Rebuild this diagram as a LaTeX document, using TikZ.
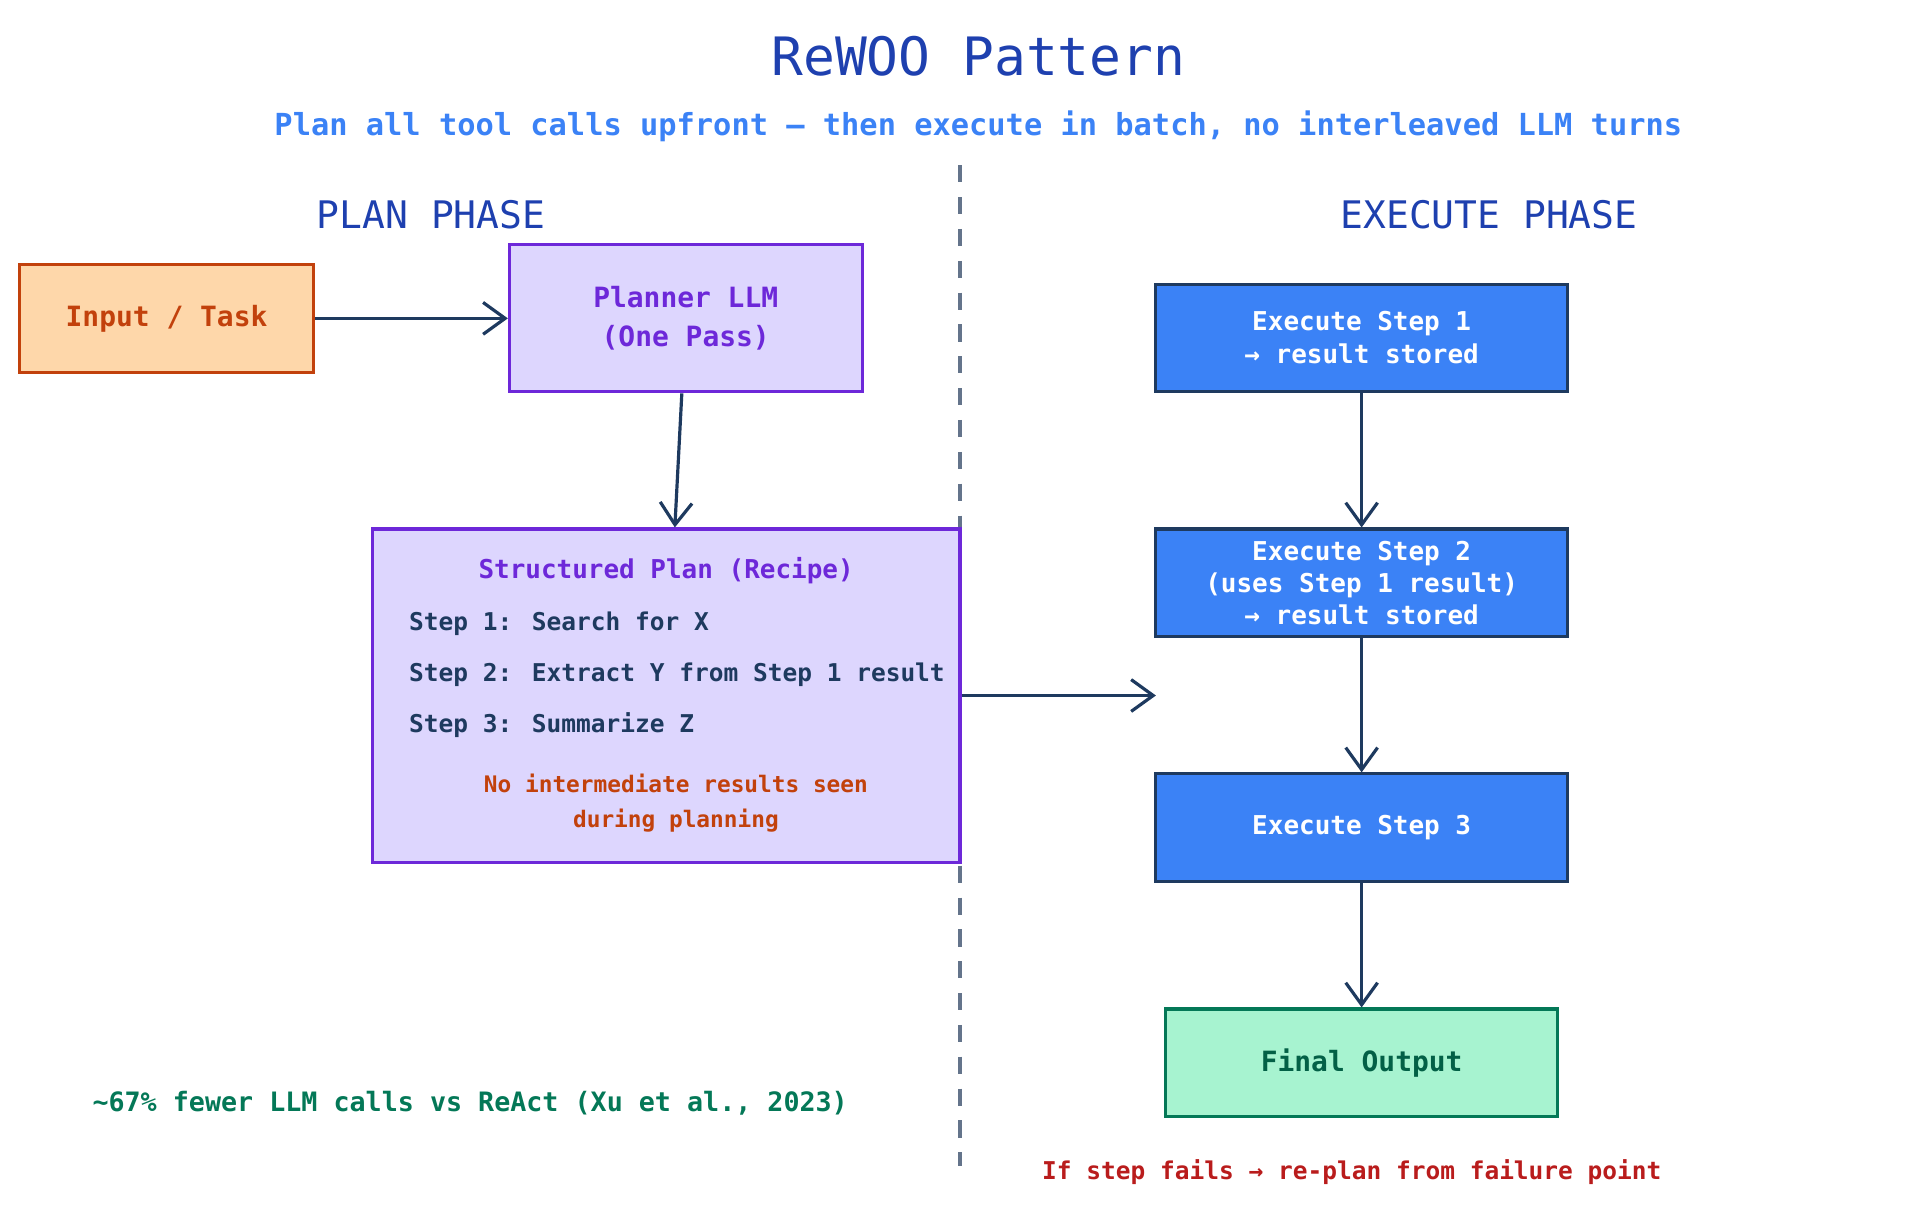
\documentclass[tikz,border=0pt]{standalone}
\usepackage{fontspec}
\setmainfont{DejaVu Sans Mono}
\usetikzlibrary{arrows.meta}
\definecolor{titleblue}{HTML}{1E40AF}
\definecolor{subblue}{HTML}{3B82F6}
\definecolor{navy}{HTML}{1E3A5F}
\definecolor{inpfill}{HTML}{FED7AA}
\definecolor{inpdraw}{HTML}{C2410C}
\definecolor{purfill}{HTML}{DDD6FE}
\definecolor{purdraw}{HTML}{6D28D9}
\definecolor{outfill}{HTML}{A7F3D0}
\definecolor{outdraw}{HTML}{047857}
\definecolor{notered}{HTML}{B91C1C}
\definecolor{noteorange}{HTML}{C2410C}
\definecolor{slate}{HTML}{64748B}
\tikzset{
  box/.style={draw, line width=1.25pt, inner sep=0pt, align=center},
  conn/.style={draw=navy, line width=1.3pt, -{Straight Barb[length=9pt,width=13pt,line width=1.3pt]}},
  execbox/.style={box, fill=subblue, draw=navy, text=white, minimum width=168pt, minimum height=44pt,
    font=\fontsize{10.6}{13.5}\selectfont\bfseries},
}
\begin{document}
\begin{tikzpicture}[x=0.5pt,y=0.5pt,yscale=-1]
\useasboundingbox (0,0) rectangle (1568,989);

% headings
\node (title) at (799,46) [text=titleblue, font=\fontsize{21.6}{26}\selectfont] {ReWOO Pattern};
\node (subtitle) at (799,103) [text=subblue, font=\fontsize{12.4}{15}\selectfont\bfseries] {Plan all tool calls upfront — then execute in batch, no interleaved LLM turns};
\node (planhead) at (352,175) [text=titleblue, font=\fontsize{15.5}{18}\selectfont] {PLAN PHASE};
\node (exechead) at (1216,175) [text=titleblue, font=\fontsize{15.5}{18}\selectfont] {EXECUTE PHASE};

% divider
\draw [slate, line width=1.5pt, dash pattern={on 7pt off 6pt}] (784,135) -- (784,952);

% plan side
\node (input) at (136,260) [box, fill=inpfill, draw=inpdraw, text=inpdraw, minimum width=120pt, minimum height=44pt,
  font=\fontsize{11.4}{14}\selectfont\bfseries] {Input / Task};
\node (planner) at (560,260) [box, fill=purfill, draw=purdraw, text=purdraw, minimum width=144pt, minimum height=60pt,
  font=\fontsize{11.4}{16}\selectfont\bfseries] {Planner LLM\\(One Pass)};
\node (plan) at (544,568) [box, fill=purfill, draw=purdraw, minimum width=240pt, minimum height=136pt] {};
\node at (544,466) [text=purdraw, font=\fontsize{10.6}{13}\selectfont\bfseries] {Structured Plan (Recipe)};
\foreach \y/\s in {509/{Step 1: Search for X},551/{Step 2: Extract Y from Step 1 result},592/{Step 3: Summarize Z}}
  \node [anchor=west, text=navy, font=\fontsize{10}{12}\selectfont\bfseries] at (327,\y) {\s};
\node at (552,656) [text=noteorange, align=center, font=\fontsize{9.3}{14.5}\selectfont\bfseries] {No intermediate results seen\\during planning};
\node (saving) at (384,901) [text=outdraw, font=\fontsize{10.9}{13}\selectfont\bfseries] {\textasciitilde67\% fewer LLM calls vs ReAct (Xu et al., 2023)};

% execute side
\node (step1) at (1112,276) [execbox] {Execute Step 1\\→ result stored};
\node (step2) at (1112,476) [execbox, font=\fontsize{10.6}{13}\selectfont\bfseries] {Execute Step 2\\(uses Step 1 result)\\→ result stored};
\node (step3) at (1112,676) [execbox] {Execute Step 3};
\node (final) at (1112,868) [box, fill=outfill, draw=outdraw, text=outdraw!80!black, minimum width=160pt, minimum height=44pt,
  font=\fontsize{11.4}{14}\selectfont\bfseries] {Final Output};
\node (replan) at (1104,957) [text=notered, font=\fontsize{10}{12}\selectfont\bfseries] {If step fails → re-plan from failure point};

% connectors
\coordinate (execin) at (944,568);
\draw [conn] (input) -- (planner);
\draw [conn] (planner) -- (plan);
\draw [conn] (plan.east |- execin) -- (execin);
\draw [conn] (step1) -- (step2);
\draw [conn] (step2) -- (step3);
\draw [conn] (step3) -- (final);
\end{tikzpicture}
\end{document}
